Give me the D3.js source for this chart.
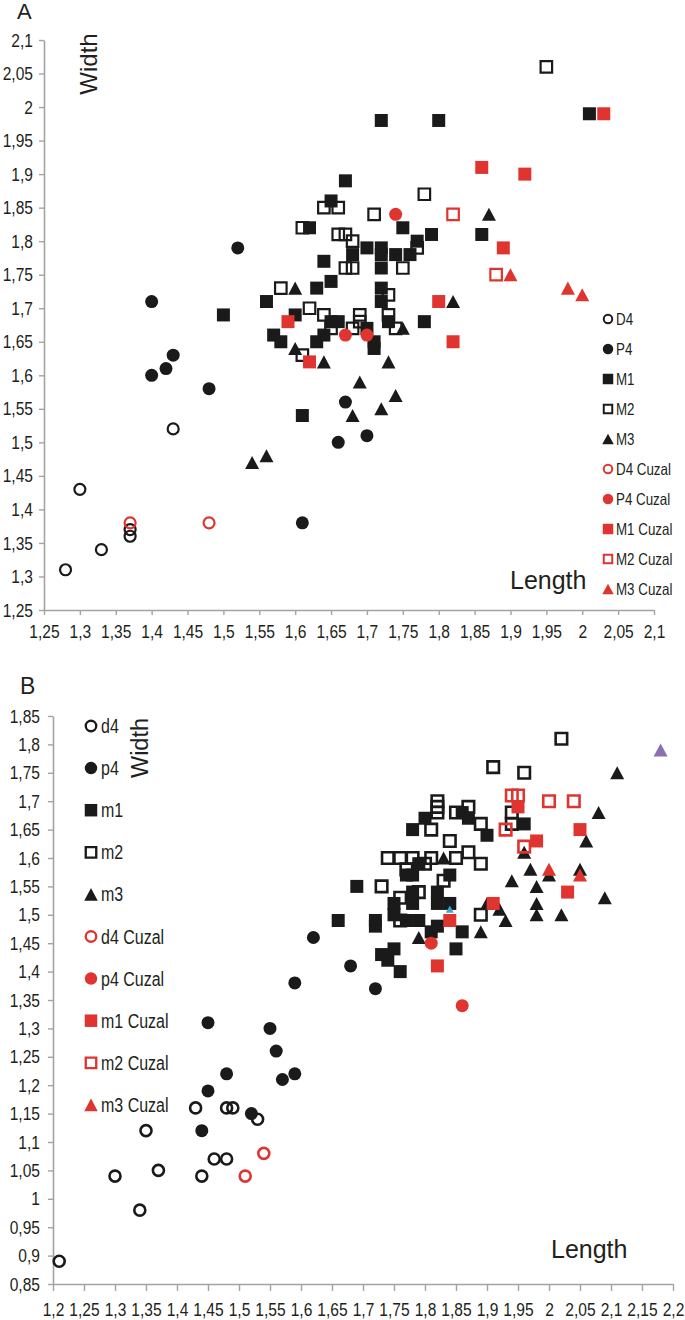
<!DOCTYPE html>
<html><head><meta charset="utf-8">
<script src="https://cdn.jsdelivr.net/npm/d3@7"></script>
<style>body{margin:0;background:#fff}svg{display:block}</style>
</head><body><svg id="c" width="685" height="1320"></svg>
<script>
// ---------- Panel A data (Length, Width) ----------
const A_D4 = [[1.28,1.31],[1.30,1.43],[1.33,1.34],[1.37,1.36],[1.37,1.37],[1.43,1.52]];
const A_P4 = [[1.40,1.71],[1.40,1.60],[1.42,1.61],[1.43,1.63],[1.48,1.58],[1.52,1.79],[1.61,1.38],[1.66,1.50],[1.67,1.56],[1.70,1.51]];
const A_M1 = [[1.50,1.69],[1.56,1.71],[1.57,1.66],[1.58,1.65],[1.60,1.69],[1.61,1.54],[1.62,1.82],[1.63,1.73],[1.63,1.65],[1.64,1.77],[1.64,1.66],[1.65,1.86],[1.65,1.74],[1.65,1.68],[1.66,1.68],[1.67,1.89],[1.68,1.78],[1.70,1.79],[1.70,1.67],[1.71,1.65],[1.71,1.64],[1.72,1.98],[1.72,1.79],[1.72,1.78],[1.72,1.76],[1.72,1.73],[1.72,1.71],[1.73,1.68],[1.74,1.78],[1.75,1.82],[1.76,1.78],[1.77,1.80],[1.78,1.68],[1.79,1.81],[1.80,1.98],[1.86,1.81],[2.01,1.99]];
const A_M2 = [[1.58,1.73],[1.61,1.82],[1.61,1.63],[1.62,1.70],[1.64,1.85],[1.64,1.69],[1.65,1.67],[1.66,1.85],[1.66,1.81],[1.67,1.81],[1.67,1.76],[1.68,1.80],[1.68,1.76],[1.68,1.67],[1.69,1.69],[1.69,1.68],[1.71,1.84],[1.73,1.72],[1.73,1.69],[1.74,1.67],[1.75,1.76],[1.77,1.79],[1.78,1.87],[1.95,2.06]];
const A_M3 = [[1.54,1.47],[1.56,1.48],[1.60,1.73],[1.60,1.64],[1.64,1.62],[1.68,1.54],[1.69,1.59],[1.72,1.55],[1.73,1.62],[1.74,1.57],[1.75,1.67],[1.82,1.71],[1.87,1.84]];
const A_D4C = [[1.37,1.38],[1.48,1.38]];
const A_P4C = [[1.67,1.66],[1.70,1.66],[1.74,1.84]];
const A_M1C = [[1.59,1.68],[1.62,1.62],[1.80,1.71],[1.82,1.65],[1.86,1.91],[1.89,1.79],[1.92,1.90],[2.03,1.99]];
const A_M2C = [[1.82,1.84],[1.88,1.75]];
const A_M3C = [[1.90,1.75],[1.98,1.73],[2.00,1.72]];
const A_labels = ["D4","P4","M1","M2","M3","D4 Cuzal","P4 Cuzal","M1 Cuzal","M2 Cuzal","M3 Cuzal"];
const ticksA = [1.25,1.3,1.35,1.4,1.45,1.5,1.55,1.6,1.65,1.7,1.75,1.8,1.85,1.9,1.95,2,2.05,2.1];

// ---------- Panel B data ----------
const B_d4 = [[1.21,0.89],[1.30,1.04],[1.34,0.98],[1.35,1.12],[1.37,1.05],[1.43,1.16],[1.44,1.04],[1.46,1.07],[1.48,1.07],[1.48,1.16],[1.49,1.16],[1.53,1.14]];
const B_p4 = [[1.44,1.12],[1.45,1.31],[1.45,1.19],[1.48,1.22],[1.52,1.15],[1.55,1.30],[1.56,1.26],[1.57,1.21],[1.59,1.22],[1.59,1.38],[1.62,1.46],[1.68,1.41],[1.72,1.37]];
const B_m1 = [[1.66,1.49],[1.69,1.55],[1.72,1.49],[1.72,1.48],[1.73,1.43],[1.74,1.42],[1.75,1.44],[1.76,1.40],[1.75,1.52],[1.75,1.50],[1.77,1.57],[1.77,1.49],[1.78,1.65],[1.78,1.57],[1.78,1.54],[1.78,1.52],[1.79,1.59],[1.79,1.49],[1.80,1.67],[1.81,1.47],[1.82,1.54],[1.82,1.52],[1.82,1.48],[1.84,1.57],[1.84,1.52],[1.85,1.44],[1.86,1.47],[1.86,1.68],[1.87,1.67],[1.90,1.64],[1.96,1.66]];
const B_m2 = [[1.73,1.55],[1.74,1.60],[1.76,1.60],[1.76,1.53],[1.76,1.49],[1.77,1.58],[1.78,1.60],[1.79,1.54],[1.80,1.59],[1.81,1.65],[1.81,1.60],[1.82,1.70],[1.82,1.69],[1.82,1.68],[1.83,1.56],[1.84,1.63],[1.85,1.68],[1.85,1.60],[1.87,1.69],[1.87,1.61],[1.89,1.66],[1.89,1.59],[1.89,1.50],[1.91,1.76],[1.94,1.68],[1.94,1.66],[1.96,1.75],[2.02,1.81]];
const B_m3 = [[1.79,1.46],[1.83,1.60],[1.89,1.47],[1.90,1.52],[1.92,1.51],[1.93,1.49],[1.94,1.56],[1.96,1.61],[1.97,1.58],[1.98,1.55],[1.98,1.52],[1.98,1.50],[2.00,1.57],[2.02,1.50],[2.05,1.58],[2.06,1.63],[2.08,1.68],[2.09,1.53],[2.11,1.75]];
const B_other1 = [[2.18,1.79]];
const B_other2 = [[1.84,1.51]];
const B_d4C = [[1.51,1.04],[1.54,1.08]];
const B_p4C = [[1.81,1.45],[1.86,1.34]];
const B_m1C = [[1.82,1.41],[1.84,1.49],[1.91,1.52],[1.95,1.69],[1.98,1.63],[2.03,1.54],[2.05,1.65]];
const B_m2C = [[1.93,1.65],[1.94,1.71],[1.95,1.71],[1.96,1.62],[2.00,1.70],[2.04,1.70]];
const B_m3C = [[2.00,1.58],[2.05,1.57]];
const B_labels = ["d4","p4","m1","m2","m3","d4 Cuzal","p4 Cuzal","m1 Cuzal","m2 Cuzal","m3 Cuzal"];
const ticksBy = [0.85,0.9,0.95,1,1.05,1.1,1.15,1.2,1.25,1.3,1.35,1.4,1.45,1.5,1.55,1.6,1.65,1.7,1.75,1.8,1.85];
const ticksBx = [1.2,1.25,1.3,1.35,1.4,1.45,1.5,1.55,1.6,1.65,1.7,1.75,1.8,1.85,1.9,1.95,2,2.05,2.1,2.15,2.2];

// ---------- styling ----------
const BLACK = "#1a1a1a", RED = "#df3430", TXT = "#231f20", AXIS = "#a3a3a3";
const FONT = "'Liberation Sans', Arial, sans-serif";
const NARROW = 0.82;
const shapes = {
  circle:{draw(c,d){c.moveTo(d/2,0);c.arc(0,0,d/2,0,2*Math.PI);}},
  square:{draw(c,s){c.rect(-s/2,-s/2,s,s);}},
  triangle:{draw(c,w){const h=w*0.93;c.moveTo(0,-h/2);c.lineTo(w/2,h/2);c.lineTo(-w/2,h/2);c.closePath();}}
};
const styleList = [["circle",BLACK,false],["circle",BLACK,true],["square",BLACK,true],["square",BLACK,false],["triangle",BLACK,true],
                   ["circle",RED,false],["circle",RED,true],["square",RED,true],["square",RED,false],["triangle",RED,true]];

const svg = d3.select("#c");
const fmt = d => String(+d.toFixed(2)).replace(".", ",");

function drawMarker(g, x, y, shape, color, filled, big, openStroke){
  const size = filled ? (shape==="triangle" ? big+1 : big) : big-2;
  g.append("path")
    .attr("transform", `translate(${x},${y})`)
    .attr("d", d3.symbol().type(shapes[shape]).size(size)())
    .attr("fill", filled ? color : "none")
    .attr("stroke", filled ? "none" : color)
    .attr("stroke-width", filled ? 0 : openStroke);
}

function panel(cfg){
  const g = svg.append("g");
  const x = d3.scaleLinear().domain(cfg.xd).range(cfg.xr);
  const y = d3.scaleLinear().domain(cfg.yd).range(cfg.yr);
  const ya = g.append("g").attr("transform",`translate(${cfg.xr[0]},0)`)
    .call(d3.axisLeft(y).tickValues(cfg.yt).tickSize(5).tickSizeOuter(0).tickPadding(cfg.ypad).tickFormat(fmt));
  const xa = g.append("g").attr("transform",`translate(0,${cfg.yr[0]})`)
    .call(d3.axisBottom(x).tickValues(cfg.xt).tickSize(cfg.xtick).tickSizeOuter(0).tickPadding(cfg.xpad).tickFormat(fmt));
  [ya,xa].forEach(a=>{
    a.attr("font-family",null).attr("font-size",null);
    a.select(".domain").attr("stroke",AXIS).attr("stroke-width",1.6);
    a.selectAll(".tick line").attr("stroke",AXIS).attr("stroke-width",1.4);
    a.selectAll("text").attr("fill",TXT).attr("font-family",FONT).attr("font-size",19);
  });
  ya.selectAll("text").attr("x", -(5+cfg.ypad)/NARROW).attr("transform",`scale(${NARROW},1)`);
  xa.selectAll("text").attr("transform",`scale(${NARROW},1)`);

  // series
  cfg.series.forEach(s=>{
    const sg = g.append("g");
    s.data.forEach(d => drawMarker(sg, x(d[0]), y(d[1]), s.shape, s.color, s.filled, s.big, cfg.openStroke));
  });
  // legend
  const lg = g.append("g");
  cfg.labels.forEach((lab,i)=>{
    const st = styleList[i];
    const cy = cfg.leg.y0 + i*cfg.leg.dy;
    drawMarker(lg, cfg.leg.mx, cy, st[0], st[1], st[2], cfg.leg.ms, cfg.openStroke*0.9);
    lg.append("text").attr("transform",`translate(${cfg.leg.tx},${cy}) scale(${NARROW},1)`)
      .attr("dy","0.36em").attr("font-family",FONT).attr("font-size",cfg.leg.fs).attr("fill",TXT).text(lab);
  });
  // titles
  g.append("text").attr("x",cfg.panel[0]).attr("y",cfg.panel[1]).attr("font-family",FONT).attr("font-size",cfg.panel[3]).attr("fill",TXT).text(cfg.panel[2]);
  g.append("text").attr("transform",`translate(${cfg.wt[0]},${cfg.wt[1]}) rotate(-90)`).attr("text-anchor","middle")
    .attr("font-family",FONT).attr("font-size",cfg.wt[2]).attr("fill",TXT).text("Width");
  g.append("text").attr("x",cfg.lt[0]).attr("y",cfg.lt[1]).attr("font-family",FONT).attr("font-size",cfg.lt[2]).attr("fill",TXT).text("Length");
}

const mk = (data,i,big) => ({data, shape:styleList[i][0], color:styleList[i][1], filled:styleList[i][2], big});

panel({
  xd:[1.25,2.1], xr:[44,654], yd:[1.25,2.1], yr:[610,40], xt:ticksA, yt:ticksA,
  ypad:6, xtick:5, xpad:10, openStroke:2.2,
  series:[mk(A_D4,0,13),mk(A_P4,1,13),mk(A_M1,2,13),mk(A_M2,3,13.5),mk(A_M3,4,13),
          mk(A_D4C,5,13),mk(A_P4C,6,13),mk(A_M1C,7,13),mk(A_M2C,8,13.5),mk(A_M3C,9,13)],
  labels:A_labels, leg:{mx:608, tx:616, y0:319, dy:30, ms:10.5, fs:16.3},
  panel:[17,19,"A",22], wt:[97,64,24], lt:[510,589,25]
});

panel({
  xd:[1.2,2.2], xr:[53,673], yd:[0.85,1.85], yr:[1284,716], xt:ticksBx, yt:ticksBy,
  ypad:8, xtick:7, xpad:12, openStroke:2.6,
  series:[mk(B_d4,0,13),mk(B_p4,1,13),mk(B_m1,2,13),mk(B_m2,3,13.5),mk(B_m3,4,13),
          {data:B_other1, shape:"triangle", color:"#8b6fae", filled:true, big:13},
          {data:B_other2, shape:"triangle", color:"#3fa3c9", filled:true, big:7},
          mk(B_d4C,5,13),mk(B_p4C,6,13),mk(B_m1C,7,13),mk(B_m2C,8,13.5),mk(B_m3C,9,13)],
  labels:B_labels, leg:{mx:91, tx:101, y0:726, dy:42.1, ms:12.5, fs:19.5},
  panel:[20,694,"B",23], wt:[148,748,23.5], lt:[551,1258,25]
});
</script></body></html>
